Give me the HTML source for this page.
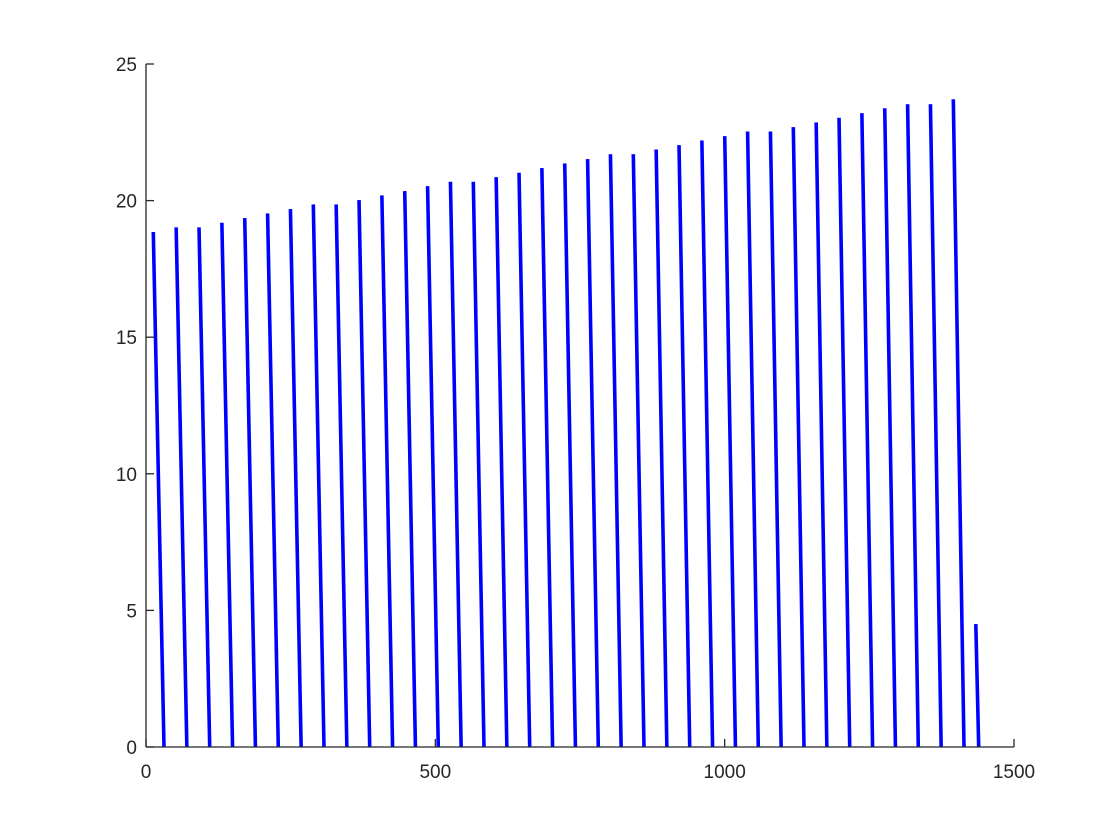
<!DOCTYPE html>
<html><head><meta charset="utf-8"><style>
body{margin:0;background:#fff}
svg{display:block}
text{font-family:"Liberation Sans",Arial,sans-serif;font-size:19px;fill:#262626}
</style></head><body>
<svg id="chart" width="1120" height="840" xmlns="http://www.w3.org/2000/svg">
<g id="marks"></g>
<g id="axes"></g>
</svg>
<script>
const segStarts = [12.6,52.1,91.6,131.1,170.6,210.1,249.6,289.1,328.6,368.1,407.6,447.1,486.6,526.1,565.6,605.1,644.6,684.1,723.6,763.1,802.6,842.1,881.6,921.1,960.6,1000.1,1039.6,1079.1,1118.6,1158.1,1197.6,1237.1,1276.6,1316.1,1355.6,1395.1,1434.0];
const segEnds = [31.1,70.6,110.1,149.6,189.1,228.6,268.1,307.6,347.1,386.6,426.1,465.6,505.1,544.6,584.1,623.6,663.1,702.6,742.1,781.6,821.1,860.6,900.1,939.6,979.1,1018.6,1058.1,1097.6,1137.1,1176.6,1216.1,1255.6,1295.1,1334.6,1374.1,1413.6,1439.0];
const peakValues = [18.85,19.02,19.02,19.19,19.36,19.53,19.69,19.86,19.86,20.02,20.19,20.35,20.53,20.69,20.69,20.86,21.02,21.19,21.36,21.52,21.7,21.7,21.87,22.03,22.2,22.36,22.53,22.53,22.69,22.86,23.03,23.2,23.38,23.53,23.53,23.71,4.5];
const xTicks = [0,500,1000,1500];
const yTicks = [0,5,10,15,20,25];

const X0=146,X1=1014,Y0=747,Y1=64;
const sx = v => X0 + (v-0)/(1500-0)*(X1-X0);
const sy = v => Y0 - (v-0)/(25-0)*(Y0-Y1);
const NS="http://www.w3.org/2000/svg";
const marks=document.getElementById('marks');
for(let i=0;i<segStarts.length;i++){
  const l=document.createElementNS(NS,'line');
  l.setAttribute('x1',sx(segStarts[i]));l.setAttribute('y1',sy(peakValues[i]));
  l.setAttribute('x2',sx(segEnds[i]));l.setAttribute('y2',sy(0));
  l.setAttribute('stroke','#0000ff');l.setAttribute('stroke-width','3.6');
  
  
  marks.appendChild(l);
}
const axes=document.getElementById('axes');
function add(tag,attrs,txt){const e=document.createElementNS(NS,tag);for(const k in attrs)e.setAttribute(k,attrs[k]);if(txt!==undefined)e.textContent=txt;axes.appendChild(e);return e;}
const xa=add('line',{x1:X0,y1:Y0,x2:X1,y2:Y0,stroke:'#262626','stroke-width':1.3});


const ya=add('line',{x1:X0,y1:Y0,x2:X0,y2:Y1,stroke:'#262626','stroke-width':1.3});


xTicks.forEach(t=>{
  const tk=add('line',{x1:sx(t),y1:Y0,x2:sx(t),y2:Y0-8,stroke:'#262626','stroke-width':1.3});
  
  
  const lb=add('text',{x:sx(t),y:Y0+31,'text-anchor':'middle'},String(t));
  
  
});
yTicks.forEach(t=>{
  const tk=add('line',{x1:X0,y1:sy(t),x2:X0+8,y2:sy(t),stroke:'#262626','stroke-width':1.3});
  
  
  const lb=add('text',{x:X0-9,y:sy(t)+7,'text-anchor':'end'},String(t));
  
  
});
</script>
</body></html>
